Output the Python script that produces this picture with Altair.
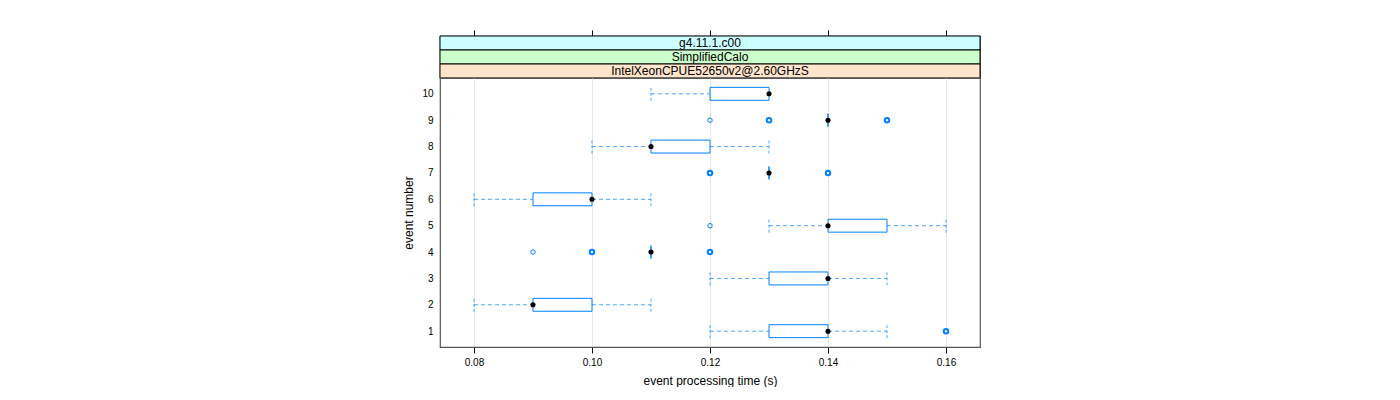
import altair as alt
import pandas as pd

# ---- data ----
events = [1, 2, 3, 4, 5, 6, 7, 8, 9, 10]
whisker_lo = [0.12, 0.08, 0.12, 0.11, 0.13, 0.08, 0.13, 0.10, 0.14, 0.11]
box_q1 = [0.13, 0.09, 0.13, 0.11, 0.14, 0.09, 0.13, 0.11, 0.14, 0.12]
box_median = [0.14, 0.09, 0.14, 0.11, 0.14, 0.10, 0.13, 0.11, 0.14, 0.13]
box_q3 = [0.14, 0.10, 0.14, 0.11, 0.15, 0.10, 0.13, 0.12, 0.14, 0.13]
whisker_hi = [0.15, 0.11, 0.15, 0.11, 0.16, 0.11, 0.13, 0.13, 0.14, 0.13]

outlier_event = [9, 9, 9, 9, 9, 7, 7, 7, 7, 5, 4, 4, 4, 4, 4, 1, 1]
outlier_value = [0.12, 0.13, 0.13, 0.15, 0.15, 0.12, 0.12, 0.14, 0.14, 0.12,
                 0.09, 0.10, 0.10, 0.12, 0.12, 0.16, 0.16]

x_ticks = [0.08, 0.10, 0.12, 0.14, 0.16]
strip_labels = ["g4.11.1.c00", "SimplifiedCalo", "IntelXeonCPUE52650v2@2.60GHzS"]
strip_colors = ["#ccffff", "#ccffcc", "#ffe5cc"]

# ---- tables ----
box_df = pd.DataFrame({"event": events, "q1": box_q1, "q3": box_q3, "med": box_median})
wrows = []
for e, lo, q1, q3, hi in zip(events, whisker_lo, box_q1, box_q3, whisker_hi):
    if lo < q1:
        wrows.append({"event": e, "a": lo, "b": q1, "cap": lo})
    if hi > q3:
        wrows.append({"event": e, "a": q3, "b": hi, "cap": hi})
whisk_df = pd.DataFrame(wrows)
out_df = pd.DataFrame({"event": outlier_event, "value": outlier_value})
tick_df = pd.DataFrame({"t": x_ticks})
strip_df = pd.DataFrame({"label": strip_labels})

FONT = "Liberation Sans"
BLUE = "#0080ff"
W, H = 540, 269

xscale = alt.Scale(domain=[0.07424, 0.16576], nice=False, zero=False)
yscale = alt.Scale(domain=[0.4, 10.6], nice=False, zero=False)

xaxis = alt.Axis(values=x_ticks, format=".2f", grid=True, gridColor="#e6e6e6",
                 tickSize=6, tickColor="black", domain=False,
                 labelFont=FONT, labelFontSize=10, labelColor="black", labelPadding=4,
                 title="event processing time (s)", titleFont=FONT, titleFontSize=12,
                 titleFontWeight="normal", titleColor="black", titlePadding=8)
yaxis = alt.Axis(values=events, tickCount=10, ticks=False, domain=False, grid=False, labelOverlap=False,
                 labelFont=FONT, labelFontSize=10, labelColor="black", labelPadding=7,
                 title="event number", titleFont=FONT, titleFontSize=12,
                 titleFontWeight="normal", titleColor="black", titlePadding=6)


def X(field):
    return alt.X(field, scale=xscale, axis=xaxis)


def Y(field):
    return alt.Y(field, scale=yscale, axis=yaxis)


whiskers = alt.Chart(whisk_df).mark_rule(color=BLUE, strokeDash=[4, 3], strokeWidth=1, opacity=0.7).encode(
    x=X("a:Q"), x2="b:Q", y=Y("event:Q"))

caps = alt.Chart(whisk_df).transform_calculate(
    ylo="datum.event - 0.265", yhi="datum.event + 0.265"
).mark_rule(color=BLUE, strokeDash=[3, 2], strokeWidth=1, opacity=0.7).encode(
    x=X("cap:Q"), y=Y("ylo:Q"), y2="yhi:Q")

boxes = alt.Chart(box_df).transform_calculate(
    ylo="datum.event - 0.245", yhi="datum.event + 0.245"
).mark_rect(fillOpacity=0, stroke=BLUE, strokeWidth=1).encode(
    x=X("q1:Q"), x2="q3:Q", y=Y("ylo:Q"), y2="yhi:Q")

medians = alt.Chart(box_df).mark_point(filled=True, color="black", size=26, opacity=1).encode(
    x=X("med:Q"), y=Y("event:Q"))

outliers = alt.Chart(out_df).transform_aggregate(
    n="count()", groupby=["event", "value"]
).mark_point(filled=False, color=BLUE, size=20, opacity=1).encode(
    x=X("value:Q"), y=Y("event:Q"),
    strokeWidth=alt.StrokeWidth("n:Q", scale=alt.Scale(domain=[1, 2], range=[1, 2], clamp=True), legend=None))

main = alt.layer(whiskers, caps, boxes, medians, outliers).properties(width=W, height=H)

strip_rect = alt.Chart(strip_df).mark_rect(stroke="black", strokeWidth=1).encode(
    x=alt.value(0), x2=alt.value(W),
    y=alt.Y("label:N", sort=strip_labels, axis=None, scale=alt.Scale(paddingInner=0, paddingOuter=0)),
    color=alt.Color("label:N", scale=alt.Scale(domain=strip_labels, range=strip_colors), legend=None))
strip_text = alt.Chart(strip_df).mark_text(font=FONT, fontSize=12, color="black").encode(
    x=alt.value(W / 2),
    y=alt.Y("label:N", sort=strip_labels, axis=None, scale=alt.Scale(paddingInner=0, paddingOuter=0)),
    text="label:N")
top_ticks = alt.Chart(tick_df).mark_point(opacity=0).encode(
    x=alt.X("t:Q", scale=xscale,
            axis=alt.Axis(orient="top", values=x_ticks, labels=False, tickSize=6, tickColor="black",
                          domain=False, grid=False, title=None)))
strip = alt.layer(strip_rect, strip_text, top_ticks).properties(width=W, height=42)

chart = alt.vconcat(strip, main, spacing=0, bounds="flush").resolve_scale(x="independent").properties(
    padding={"left": 394, "top": 20, "right": 0, "bottom": 0}
).configure_view(stroke="#555555", strokeWidth=1.2)

chart.save("out.html", embed_options={"renderer": "svg", "actions": False})
